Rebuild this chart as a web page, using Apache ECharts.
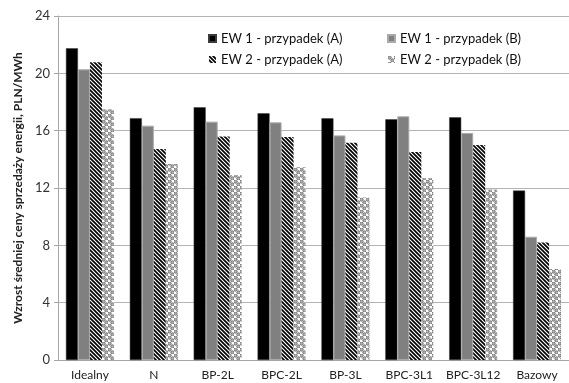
<!DOCTYPE html>
<html>
<head>
<meta charset="utf-8">
<script src="https://cdn.jsdelivr.net/npm/echarts@6/dist/echarts.min.js"></script>
<style>html,body{margin:0;padding:0;background:#fff}#c{width:569px;height:383px}</style>
</head>
<body>
<div id="c"></div>
<script>
var categories = ['Idealny', 'N', 'BP-2L', 'BPC-2L', 'BP-3L', 'BPC-3L1', 'BPC-3L12', 'Bazowy'];
var seriesNames = ['EW 1 - przypadek (A)', 'EW 1 - przypadek (B)', 'EW 2 - przypadek (A)', 'EW 2 - przypadek (B)'];
var ew1A = [21.75, 16.87, 17.63, 17.21, 16.86, 16.79, 16.93, 11.82];
var ew1B = [20.28, 16.35, 16.63, 16.58, 15.67, 17.00, 15.84, 8.60];
var ew2A = [20.77, 14.72, 15.60, 15.56, 15.16, 14.51, 15.00, 8.20];
var ew2B = [17.49, 13.68, 12.90, 13.45, 11.33, 12.70, 11.90, 6.35];
var yTicks = {min: 0, max: 24, interval: 4};

function hatchPattern() {
  var c = document.createElement('canvas'); c.width = 4; c.height = 4;
  var g = c.getContext('2d');
  g.fillStyle = '#fff'; g.fillRect(0, 0, 4, 4);
  g.strokeStyle = '#000'; g.lineWidth = 1.7;
  g.beginPath();
  g.moveTo(-1, -1); g.lineTo(5, 5);
  g.moveTo(-1, 3); g.lineTo(1, 5);
  g.moveTo(3, -1); g.lineTo(5, 1);
  g.stroke();
  return c;
}
function dotPattern() {
  var c = document.createElement('canvas'); c.width = 6; c.height = 6;
  var g = c.getContext('2d');
  g.fillStyle = '#fff'; g.fillRect(0, 0, 6, 6);
  var pts = [[1.5, 1.5], [4.5, 4.5]];
  pts.forEach(function (p) {
    g.beginPath(); g.arc(p[0], p[1], 1.7, 0, Math.PI * 2);
    g.fillStyle = '#b0b0b0'; g.fill();
    g.strokeStyle = '#707070'; g.lineWidth = 0.9; g.stroke();
  });
  return c;
}

var font = 'Lato, "Liberation Sans", sans-serif';
var chart = echarts.init(document.getElementById('c'), null, {renderer: 'canvas'});
var styles = [
  {color: '#000', borderColor: '#3a3a3a', borderWidth: 0.5},
  {color: '#808080', borderColor: '#aaaaaa', borderWidth: 1},
  {color: {image: hatchPattern(), repeat: 'repeat'}},
  {color: {image: dotPattern(), repeat: 'repeat'}}
];
var data = [ew1A, ew1B, ew2A, ew2B];
chart.setOption({
  animation: false,
  textStyle: {fontFamily: font},
  grid: {left: 58, top: 16, width: 520, height: 344, containLabel: false},
  legend: [
    {data: [seriesNames[0], seriesNames[2]], orient: 'vertical', left: 203, top: 26, itemWidth: 7, itemHeight: 7, itemGap: 6, icon: 'rect',
     textStyle: {fontSize: 13, color: '#111', fontFamily: font, lineHeight: 15}},
    {data: [seriesNames[1], seriesNames[3]], orient: 'vertical', left: 382, top: 26, itemWidth: 7, itemHeight: 7, itemGap: 6, icon: 'rect',
     textStyle: {fontSize: 13, color: '#111', fontFamily: font, lineHeight: 15}}
  ],
  xAxis: {
    type: 'category', data: categories,
    axisLine: {lineStyle: {color: '#a6a6a6'}},
    axisTick: {show: false},
    axisLabel: {fontSize: 12, color: '#222', margin: 9, interval: 0}
  },
  yAxis: {
    type: 'value', min: yTicks.min, max: yTicks.max, interval: yTicks.interval,
    name: 'Wzrost średniej ceny sprzedaży energii, PLN/MWh',
    nameLocation: 'middle', nameGap: 33, nameRotate: 90,
    nameTextStyle: {fontSize: 12, fontWeight: 'bold', color: '#222', fontFamily: font},
    axisLine: {show: true, lineStyle: {color: '#a6a6a6'}},
    axisTick: {show: true, inside: false, length: 4, lineStyle: {color: '#a6a6a6'}},
    axisLabel: {fontSize: 13, color: '#333', margin: 8},
    splitLine: {lineStyle: {color: '#b4b4b4', width: 1}}
  },
  series: seriesNames.map(function (n, i) {
    return {
      name: n, type: 'bar', data: data[i], barWidth: 12, barGap: '0%',
      itemStyle: styles[i]
    };
  })
});
</script>
</body>
</html>
